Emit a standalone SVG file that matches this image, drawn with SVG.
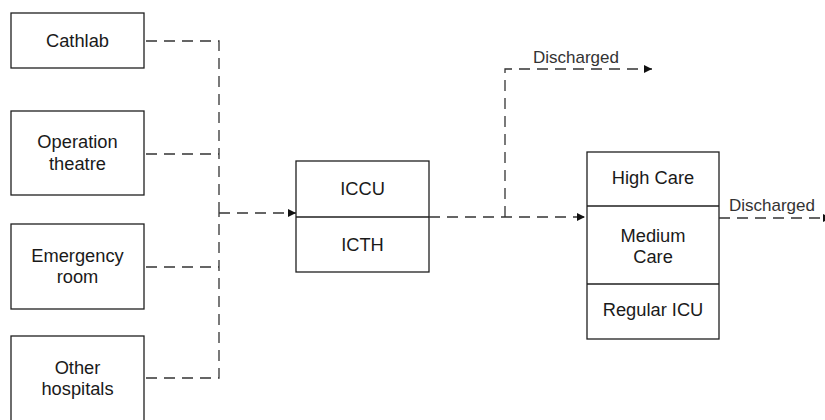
<svg xmlns="http://www.w3.org/2000/svg" width="825" height="420" viewBox="0 0 825 420">
  <defs>
    <style>
      .box { fill: #ffffff; stroke: #1f1f1f; stroke-width: 1.3; }
      .div { fill: none; stroke: #1f1f1f; stroke-width: 1.3; }
      .lbl { font-family: "Liberation Sans", Arial, Helvetica, sans-serif; font-size: 18.3px; fill: #1a1a1a; text-anchor: middle; }
      .edge-lbl { font-family: "Liberation Sans", Arial, Helvetica, sans-serif; font-size: 17px; fill: #333333; text-anchor: middle; }
      .flow { fill: none; stroke: #333333; stroke-width: 1.3; stroke-dasharray: 11 7; }
    </style>
    <marker id="arrow" viewBox="0 0 10 10" refX="10" refY="5" markerWidth="9" markerHeight="8" markerUnits="userSpaceOnUse" orient="auto">
      <path d="M0,0 L10,5 L0,10 Z" fill="#111111"/>
    </marker>
  </defs>

  <rect width="825" height="420" fill="#ffffff"/>

  <!-- source units -->
  <g id="cathlab">
    <rect class="box" x="11" y="13" width="133" height="55"/>
    <text class="lbl" x="77.5" y="47">Cathlab</text>
  </g>
  <g id="operation-theatre">
    <rect class="box" x="11" y="111" width="133" height="84"/>
    <text class="lbl" x="77.5" y="148">Operation</text>
    <text class="lbl" x="77.5" y="170">theatre</text>
  </g>
  <g id="emergency-room">
    <rect class="box" x="11" y="224" width="133" height="85"/>
    <text class="lbl" x="77.5" y="262">Emergency</text>
    <text class="lbl" x="77.5" y="283">room</text>
  </g>
  <g id="other-hospitals">
    <rect class="box" x="11" y="336" width="133" height="92"/>
    <text class="lbl" x="77.5" y="373.5">Other</text>
    <text class="lbl" x="77.5" y="395">hospitals</text>
  </g>

  <!-- intensive care unit, two compartments -->
  <g id="iccu-icth">
    <rect class="box" x="296" y="161" width="133" height="111"/>
    <line class="div" x1="296" y1="217" x2="429" y2="217"/>
    <text class="lbl" x="362.5" y="195">ICCU</text>
    <text class="lbl" x="362.5" y="250.5">ICTH</text>
  </g>

  <!-- step-down care, three compartments -->
  <g id="care-levels">
    <rect class="box" x="587" y="152" width="132" height="187"/>
    <line class="div" x1="587" y1="206" x2="719" y2="206"/>
    <line class="div" x1="587" y1="284" x2="719" y2="284"/>
    <text class="lbl" x="653" y="184">High Care</text>
    <text class="lbl" x="653" y="241.5">Medium</text>
    <text class="lbl" x="653" y="262.5">Care</text>
    <text class="lbl" x="653" y="316">Regular ICU</text>
  </g>

  <!-- connectors -->
  <g id="connectors">
    <path class="flow" d="M146,41 H219 V213"/>
    <path class="flow" d="M146,154 H219"/>
    <path class="flow" d="M146,267 H219"/>
    <path class="flow" d="M146,378 H219 V213"/>
    <path class="flow" d="M219,213 H296" marker-end="url(#arrow)"/>
    <path class="flow" d="M429,217 H585" marker-end="url(#arrow)"/>
    <path class="flow" d="M505,217 V69 H652" marker-end="url(#arrow)"/>
    <path class="flow" d="M719,218 H831" marker-end="url(#arrow)"/>
    <text class="edge-lbl" x="576" y="62.5">Discharged</text>
    <text class="edge-lbl" x="772" y="211">Discharged</text>
  </g>
</svg>
